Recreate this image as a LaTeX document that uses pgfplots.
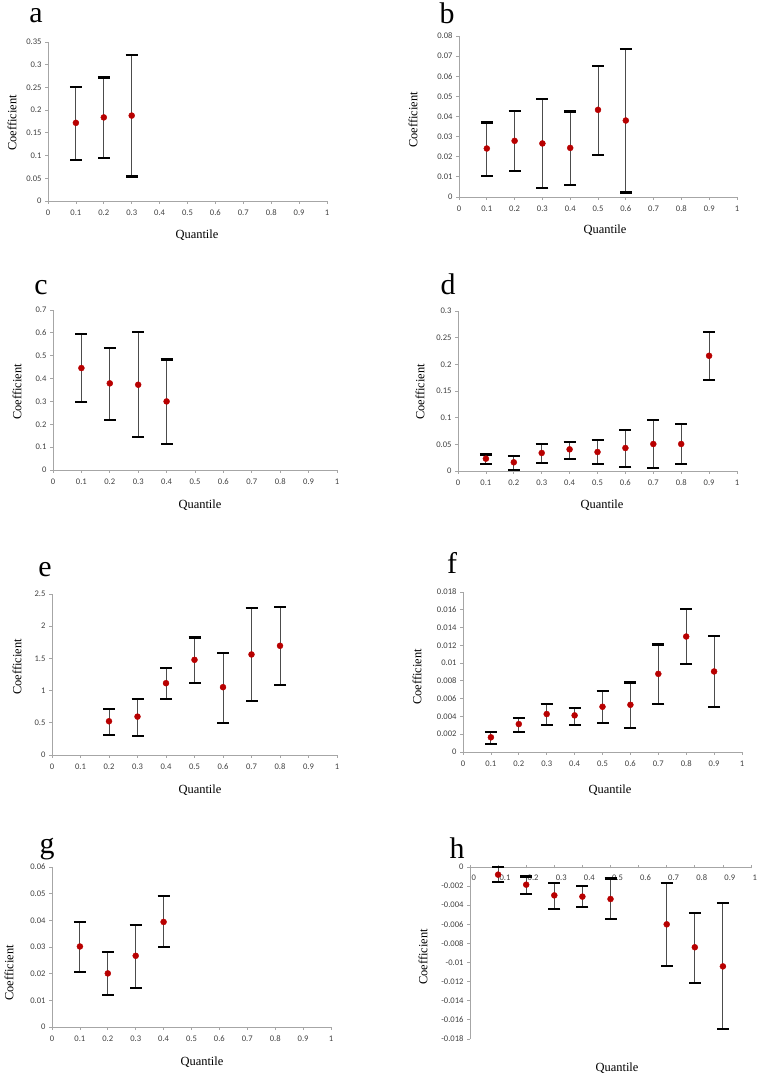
\documentclass[border=0pt]{standalone}
\usepackage{pgfplots}
\pgfplotsset{compat=1.18}
\usepackage{fontspec}
\setmainfont{Liberation Serif}
\newfontfamily\tickfont{Carlito}
\definecolor{ptred}{HTML}{B80000}
\definecolor{axgray}{HTML}{A6A6A6}
\definecolor{tickgray}{HTML}{404040}
\pgfplotsset{
  panel/.style={
    scale only axis, anchor=south west,
    axis x line=bottom, axis y line=left,
    axis line style={-, axgray, line width=0.8bp},
    tick style={axgray, line width=0.8bp},
    tick align=outside, major tick length=3bp,
    xmin=0, xmax=1, xtick={0,0.1,...,1.0},
    ticklabel style={font=\tickfont\fontsize{8.6}{9}\selectfont, text=tickgray},
    xticklabel style={yshift=-2bp},
    /pgf/number format/assume math mode=true,
    /pgf/number format/fixed, /pgf/number format/precision=3,
    scaled ticks=false, clip=false,
  },
  pt/.style={only marks, mark=*, mark size=3bp, color=ptred,
      mark options={fill=ptred, draw=ptred},
      error bars/y dir=both, error bars/y explicit,
      error bars/error bar style={black!70, line width=0.9bp},
      error bars/error mark options={rotate=90, mark size=6bp, line width=2.2bp, black}},
  /pgfplots/table/qtab/.style={x=x, y=y,
    y error plus expr=\thisrow{hi}-\thisrow{y},
    y error minus expr=\thisrow{y}-\thisrow{lo}},
}
\newcommand{\lab}[3]{\node[font=\fontsize{12.5}{14}\selectfont] at (#1bp,#2bp) {#3};}
\newcommand{\vlab}[2]{\node[font=\fontsize{12.5}{14}\selectfont, rotate=90] at (#1bp,#2bp) {Coefficient};}
\newcommand{\plet}[3]{\node[font=\fontsize{30}{32}\selectfont, anchor=base, inner sep=0pt] at (#1bp,#2bp) {#3};}
\begin{document}
\begin{tikzpicture}
\useasboundingbox (0,0) rectangle (758bp,1079bp);
% ---------- a ----------
\begin{axis}[panel, at={(48bp,878bp)}, width=279bp, height=159bp,
  ymin=0, ymax=0.35, ytick={0,0.05,...,0.351}]
\addplot[pt] table[qtab] {
x y hi lo
0.1 0.172 0.251 0.091
0.2 0.184 0.272 0.094
0.3 0.188 0.321 0.054
};
\end{axis}
\plet{36}{1056}{a}
\lab{197}{844}{Quantile}
\vlab{12}{956}
% ---------- b ----------
\begin{axis}[panel, at={(459bp,882bp)}, width=278bp, height=161bp,
  ymin=0, ymax=0.08, ytick={0,0.01,...,0.081}]
\addplot[pt] table[qtab] {
x y hi lo
0.1 0.0241 0.0370 0.0106
0.2 0.0279 0.0428 0.0128
0.3 0.0266 0.0485 0.0045
0.4 0.0244 0.0425 0.0058
0.5 0.0433 0.0651 0.0207
0.6 0.0380 0.0737 0.0022
};
\end{axis}
\plet{447}{1055}{b}
\lab{605}{849}{Quantile}
\vlab{413}{959}
% ---------- c ----------
\begin{axis}[panel, at={(53bp,609bp)}, width=284bp, height=160bp,
  ymin=0, ymax=0.7, ytick={0,0.1,...,0.71}]
\addplot[pt] table[qtab] {
x y hi lo
0.1 0.446 0.594 0.296
0.2 0.379 0.532 0.217
0.3 0.373 0.602 0.143
0.4 0.300 0.483 0.114
};
\end{axis}
\plet{41}{784}{c}
\lab{200}{574}{Quantile}
\vlab{17}{687}
% ---------- d ----------
\begin{axis}[panel, at={(458bp,608bp)}, width=279bp, height=160bp,
  ymin=0, ymax=0.3, ytick={0,0.05,...,0.301}]
\addplot[pt] table[qtab] {
x y hi lo
0.1 0.0231 0.0310 0.0125
0.2 0.0163 0.0275 0.0025
0.3 0.0338 0.0506 0.0150
0.4 0.0406 0.0550 0.0231
0.5 0.0356 0.0575 0.0125
0.6 0.0431 0.0763 0.0075
0.7 0.0506 0.0950 0.0056
0.8 0.0506 0.0880 0.0125
0.9 0.2160 0.2606 0.1700
};
\end{axis}
\plet{448}{784}{d}
\lab{602}{574}{Quantile}
\vlab{420}{687}
% ---------- e ----------
\begin{axis}[panel, at={(52bp,324bp)}, width=285bp, height=161bp,
  ymin=0, ymax=2.5, ytick={0,0.5,...,2.51}]
\addplot[pt] table[qtab] {
x y hi lo
0.2 0.524 0.711 0.316
0.3 0.596 0.866 0.296
0.4 1.115 1.349 0.866
0.5 1.478 1.826 1.115
0.6 1.053 1.582 0.503
0.7 1.561 2.277 0.840
0.8 1.696 2.293 1.084
};
\end{axis}
\plet{45}{502}{e}
\lab{200}{289}{Quantile}
\vlab{17}{412}
% ---------- f ----------
\begin{axis}[panel, at={(463bp,327bp)}, width=279bp, height=160bp,
  ymin=0, ymax=0.018, ytick={0,0.002,...,0.0181}]
\addplot[pt] table[qtab] {
x y hi lo
0.1 0.00165 0.00225 0.00090
0.2 0.00314 0.00382 0.00225
0.3 0.00427 0.00543 0.00307
0.4 0.00412 0.00494 0.00307
0.5 0.00509 0.00685 0.00326
0.6 0.00531 0.00782 0.00270
0.7 0.00879 0.01209 0.00543
0.8 0.01299 0.01609 0.00988
0.9 0.00906 0.01302 0.00505
};
\end{axis}
\plet{452}{505}{f}
\lab{610}{289}{Quantile}
\vlab{417}{402}
% ---------- g ----------
\begin{axis}[panel, at={(52bp,52bp)}, width=279bp, height=160bp,
  ymin=0, ymax=0.06, ytick={0,0.01,...,0.061}]
\addplot[pt] table[qtab] {
x y hi lo
0.1 0.0302 0.0395 0.0207
0.2 0.0201 0.0280 0.0119
0.3 0.0267 0.0384 0.0146
0.4 0.0394 0.0490 0.0299
};
\end{axis}
\plet{47}{225}{g}
\lab{202}{17}{Quantile}
\vlab{9}{106}
% ---------- h ----------
\begin{axis}[panel, at={(470bp,40bp)}, width=281bp, height=172bp,
  axis x line=middle, axis line style={-},
  every inner x axis line/.append style={-},
  hide obscured x ticks=false, hide obscured y ticks=false,
  xticklabel style={anchor=north west, xshift=-2bp, yshift=-1bp},
  ymin=-0.018, ymax=0, ytick={-0.018,-0.016,...,0.0001}]
\addplot[pt] table[qtab] {
x y hi lo
0.1 -0.00080 -0.00003 -0.00160
0.2 -0.00185 -0.00100 -0.00283
0.3 -0.00297 -0.00164 -0.00436
0.4 -0.00310 -0.00200 -0.00420
0.5 -0.00335 -0.00120 -0.00548
0.7 -0.00600 -0.00170 -0.01036
0.8 -0.00840 -0.00478 -0.01214
0.9 -0.01040 -0.00380 -0.01699
};
\end{axis}
\plet{457}{220}{h}
\lab{617}{11}{Quantile}
\vlab{423}{122}
\end{tikzpicture}
\end{document}
